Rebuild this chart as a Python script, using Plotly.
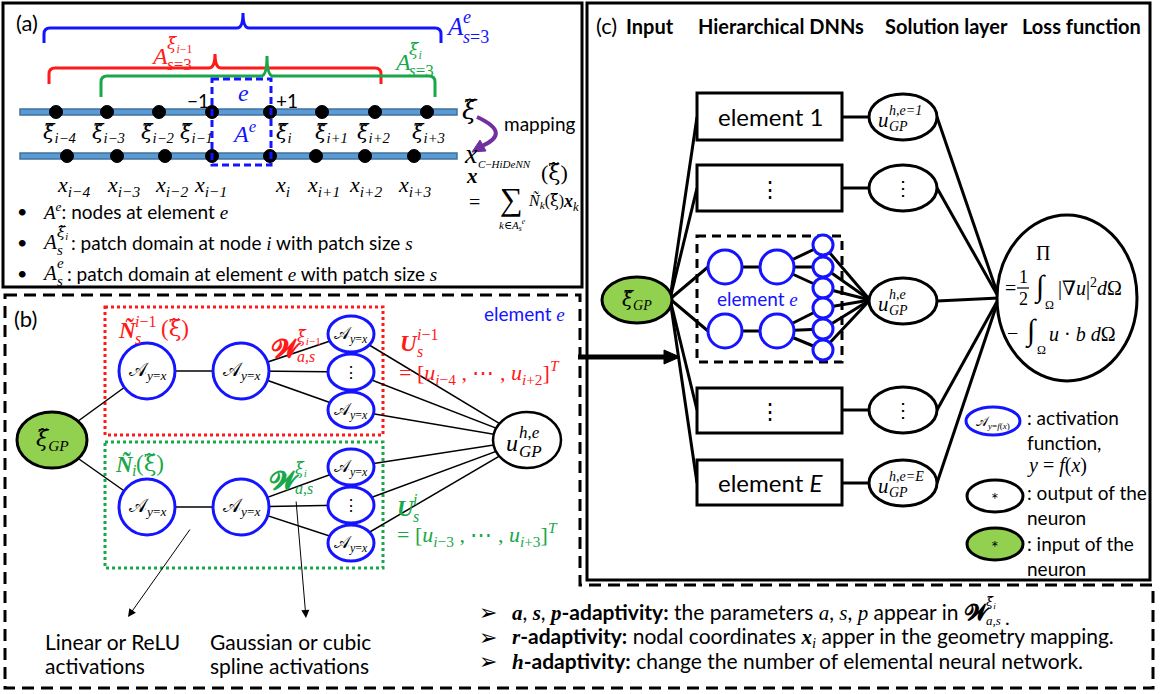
import plotly.graph_objects as go

# ---------------- content (labels and texts) ----------------
node_subs = ["i−4", "i−3", "i−2", "i−1", "i", "i+1", "i+2", "i+3"]
headers_c = ["Input", "Hierarchical DNNs", "Solution layer", "Loss function"]
box_texts = ["element 1", "⋮", "", "⋮", "element <i>E</i>"]
solution_sups = ["h,e=1", "", "h,e", "", "h,e=E"]
bullet_a_texts = [": nodes at element {e}",
                  ": patch domain at node {i} with patch size {s}",
                  ": patch domain at element {e} with patch size {s}"]
notes_b = [["Linear or ReLU", "activations"], ["Gaussian or cubic", "spline activations"]]
adapt_heads = ["{a}, {s}, {p}", "{r}", "{h}"]
adapt_texts = [" the parameters {a}, {s}, {p} appear in ",
               " nodal coordinates {xi} apper in the geometry mapping.",
               " change the number of elemental neural network."]
legend_texts = [": activation<br>function,", ": output of the<br>neuron", ": input of the<br>neuron"]

# ---------------- styles ----------------
SANS = "Lato, 'Open Sans', sans-serif"
SERIF = "'Liberation Serif', 'DejaVu Serif', serif"
BLUE = "#1414ff"
RED = "#ff1a1a"
GREEN = "#18a84a"
PURPLE = "#7030a0"
BAR = "#5b9bd5"
LIME = "#92d050"
XI = "<span style='font-family:DejaVu Serif'>ξ\u0303</span>"
SCR_A = "𝒜"
SCR_W = "𝓦"

shapes, ann = [], []


def I(s, bold=False):
    t = f"<i>{s}</i>"
    if bold:
        t = f"<b>{t}</b>"
    return f"<span style='font-family:Liberation Serif'>{t}</span>"


def txt(x, y, s, size=18, color="black", family=SANS, xa="center", ya="middle", align="left"):
    ann.append(dict(x=x, y=y, text=s, showarrow=False, xref="x", yref="y",
                    xanchor=xa, yanchor=ya, borderpad=0, align=align,
                    font=dict(size=size, color=color, family=family)))


def script(x, y, base, sup, sub, size, color, bw, ss=None, dsup=None, dsub=None, family=SERIF):
    txt(x, y, base, size, color, family, xa="left")
    ss = ss or round(size * 0.65)
    if sup:
        txt(x + bw, y - (dsup if dsup is not None else 0.42 * size), sup, ss, color, family, xa="left")
    if sub:
        txt(x + bw, y + (dsub if dsub is not None else 0.36 * size), sub, ss, color, family, xa="left")


def line(x0, y0, x1, y1, color="black", w=1.5, dash=None):
    d = dict(type="line", xref="x", yref="y", x0=x0, y0=y0, x1=x1, y1=y1,
             line=dict(color=color, width=w))
    if dash:
        d["line"]["dash"] = dash
    shapes.append(d)


def rect(x0, y0, x1, y1, color="black", w=3, dash=None, fill=None):
    d = dict(type="rect", xref="x", yref="y", x0=x0, y0=y0, x1=x1, y1=y1,
             line=dict(color=color, width=w))
    if dash:
        d["line"]["dash"] = dash
    if fill:
        d["fillcolor"] = fill
    shapes.append(d)


def ell(cx, cy, rx, ry, color="black", w=3, fill="white"):
    shapes.append(dict(type="circle", xref="x", yref="y", x0=cx - rx, x1=cx + rx,
                       y0=cy - ry, y1=cy + ry, line=dict(color=color, width=w),
                       fillcolor=fill))


def path(p, color="black", w=3, fill=None, dash=None):
    d = dict(type="path", xref="x", yref="y", path=p, line=dict(color=color, width=w))
    if fill:
        d["fillcolor"] = fill
    if dash:
        d["line"]["dash"] = dash
    shapes.append(d)


def brace(x0, x1, xc, yh, yend, ytop, color):
    r = 6
    p = (f"M {x0},{yend} L {x0},{yh + r} Q {x0},{yh} {x0 + r},{yh} L {xc - 6},{yh} "
         f"Q {xc},{yh} {xc},{ytop} Q {xc},{yh} {xc + 6},{yh} L {x1 - r},{yh} "
         f"Q {x1},{yh} {x1},{yh + r} L {x1},{yend}")
    path(p, color, 3)


def arrow(xt, yt, xh, yh, w=1, size=1.6):
    ann.append(dict(x=xh, y=yh, ax=xt, ay=yt, xref="x", yref="y", axref="x", ayref="y",
                    showarrow=True, arrowhead=2, arrowsize=size, arrowwidth=w,
                    arrowcolor="black", text=""))


# ======================= panel (a) =======================
rect(3, 3, 582, 287, w=3)
txt(15, 22, "(a)", 22, xa="left")
brace(44, 441, 243, 28, 43, 13, BLUE)
brace(49, 381, 215, 68, 84, 54, RED)
brace(101, 435, 267, 76, 97, 56, GREEN)
script(445, 26, "<i>A</i>", "<i>e</i>", "<i>s</i>=3", 25, BLUE, 17, ss=18, dsup=9, dsub=11)
script(150, 56, "<i>A</i>", f"<i>{XI}</i><sub><i>i</i>−1</sub>", "<i>s</i>=3", 24, RED, 16, ss=17, dsup=12, dsub=8)
script(393, 62, "<i>A</i>", f"<i>{XI}</i><sub><i>i</i></sub>", "<i>s</i>=3", 24, GREEN, 15, ss=17, dsup=12, dsub=8)

xi_x = [56, 107, 159, 212, 270, 322, 375, 427]
xx_x = [67, 117, 165, 212, 270, 316, 365, 414]
xi_lab = [60, 108, 158, 196, 284, 331, 374, 428]
xx_lab = [73, 123, 171, 210, 282, 323, 365, 414]
rect(20, 109, 457, 115, color="#41719c", w=1.5, fill=BAR)
rect(20, 153, 457, 159, color="#41719c", w=1.5, fill=BAR)
for k, s in enumerate(node_subs):
    ell(xi_x[k], 112, 6.5, 6.5, "black", 1, "black")
    ell(xx_x[k], 156, 6.5, 6.5, "black", 1, "black")
    txt(xi_lab[k], 133, f"<i>{XI}</i><sub><i>{s}</i></sub>", 21, family=SERIF)
    txt(xx_lab[k], 186, f"<i>x</i><sub><i>{s}</i></sub>", 22, family=SERIF)
rect(212, 79, 271, 165, color=BLUE, w=3, dash="7px,4px")
txt(243, 93, "<i>e</i>", 24, BLUE, SERIF)
txt(244, 132, "<i>A</i><sup><i>e</i></sup>", 24, BLUE, SERIF)
txt(198, 100, "−1", 19)
txt(287, 100, "+1", 19)
txt(461, 110, f"<i>{XI}</i>", 26, family=SERIF, xa="left")
txt(463, 153, "<i>x</i>", 28, family=SERIF, xa="left")
txt(503, 123, "mapping", 19, xa="left")
path("M 477,117 Q 512,133 482,146", PURPLE, 4)
path("M 472,152 L 486,151 L 480,140 Z", PURPLE, 1, PURPLE)
txt(465, 176, "<b><i>x</i></b>", 21, family=SERIF, xa="left")
txt(477, 164, "<i>C</i>−<i>HiDeNN</i>", 11, family=SERIF, xa="left")
txt(540, 172, f"({XI})", 22, family=SERIF, xa="left")
txt(468, 202, "=", 20, family=SERIF, xa="left")
txt(511, 199, "∑", 32, family=SERIF)
txt(527, 201, f"<i>Ñ</i><sub><i>k</i></sub>({XI})", 16, family=SERIF, xa="left")
txt(562, 202, "<b><i>x</i></b><sub><i>k</i></sub>", 18, family=SERIF, xa="left")
txt(512, 225, "<i>k</i>∈<i>A</i><sub><i>s</i></sub><sup><i>e</i></sup>", 11, family=SERIF)
by = [211, 242, 273]
for k, t in enumerate(bullet_a_texts):
    txt(22, by[k], "•", 18)
    body = t.format(e=I("e"), i=I("i"), s=I("s"))
    if k == 0:
        txt(41, by[k], I("A") + f"<sup>{I('e')}</sup>" + body, 19, xa="left")
    else:
        sup = f"<i>{XI}</i><sub><i>i</i></sub>" if k == 1 else "<i>e</i>"
        script(41, by[k], "<i>A</i>", sup, "<i>s</i>", 21, "black", 15, ss=15, dsup=10, dsub=8)
        txt(70 if k == 1 else 66, by[k], body, 19, xa="left")

# ======================= panel (b) =======================
path("M 5,295 L 580,295 L 580,585 L 1153,585 L 1153,688 L 5,688 Z", "black", 3, dash="12px,7px")
txt(13, 318, "(b)", 22, xa="left")
txt(483, 313, "element " + I("e"), 19, BLUE, xa="left")
rect(105, 307, 383, 435, color=RED, w=3, dash="3px,3px")
rect(105, 442, 383, 568, color=GREEN, w=3, dash="3px,3px")

inp_b = (52, 440)
l1 = [(147, 371), (147, 507)]
l2 = [(241, 371), (241, 507)]
small_y = [[334, 372, 410], [467, 505, 543]]
out_b = (527, 440)
for g in range(2):
    line(*inp_b, *l1[g])
    line(*l1[g], *l2[g])
    for yy in small_y[g]:
        line(*l2[g], 351, yy)
        line(351, yy, *out_b)
ell(*inp_b, 35, 28, "black", 3, LIME)
txt(52, 440, f"<i>{XI}</i><sub><i>GP</i></sub>", 22, family=SERIF)
for g in range(2):
    for c in (l1[g], l2[g]):
        ell(*c, 28, 28, BLUE, 3)
        txt(c[0], c[1], f"{SCR_A}<sub><i>y</i>=<i>x</i></sub>", 19, family=SERIF)
    for j, yy in enumerate(small_y[g]):
        ell(351, yy, 23, 18, BLUE, 3)
        if j == 1:
            txt(351, yy, "⋮", 16, family=SERIF)
        else:
            txt(351, yy + 1, f"{SCR_A}<sub><i>y</i>=<i>x</i></sub>", 17, family=SERIF)
ell(*out_b, 34, 28, "black", 2.5)
script(505, 443, "<i>u</i>", "<i>h</i>,<i>e</i>", "<i>GP</i>", 24, "black", 13, ss=17, dsup=11, dsub=8)

script(117, 330, "<b><i>Ñ</i></b>", "<i>i</i>−1", "<i>s</i>", 23, RED, 17, ss=16, dsup=9, dsub=8)
txt(160, 328, f"({XI})", 23, RED, SERIF, xa="left")
script(270, 348, f"<b>{SCR_W}</b>", f"<i>{XI}</i><sub><i>i</i>−1</sub>", "<i>a</i>,<i>s</i>", 26, RED, 26, ss=16, dsup=11, dsub=8)
script(399, 343, "<b><i>U</i></b>", "<i>i</i>−1", "<i>s</i>", 23, RED, 17, ss=16, dsup=9, dsub=8)
txt(398, 372, "= [<i>u</i><sub><i>i</i>−4</sub> , ⋯ , <i>u</i><sub><i>i</i>+2</sub>]<sup><i>T</i></sup>", 22, RED, SERIF, xa="left")

script(114, 464, "<b><i>Ñ</i></b>", None, "<i>i</i>", 23, GREEN, 17, ss=16, dsub=6)
txt(135, 463, f"({XI})", 23, GREEN, SERIF, xa="left")
script(268, 480, f"<b>{SCR_W}</b>", f"<i>{XI}</i><sub><i>i</i></sub>", "<i>a</i>,<i>s</i>", 26, GREEN, 26, ss=16, dsup=11, dsub=8)
script(396, 508, "<b><i>U</i></b>", "<i>i</i>", "<i>s</i>", 23, GREEN, 16, ss=16, dsup=9, dsub=8)
txt(396, 534, "= [<i>u</i><sub><i>i</i>−3</sub> , ⋯ , <i>u</i><sub><i>i</i>+3</sub>]<sup><i>T</i></sup>", 22, GREEN, SERIF, xa="left")

arrow(191, 528, 128, 617)
arrow(296, 500, 306, 618)
for k, xs in enumerate([44, 209]):
    txt(xs, 641, notes_b[k][0], 21, xa="left")
    txt(xs, 665, notes_b[k][1], 21, xa="left")

ay = [612, 637, 661]
for k in range(3):
    txt(488, ay[k], "➢", 22, family="DejaVu Sans")
    head = adapt_heads[k].format(a=I("a", True), s=I("s", True), p=I("p", True),
                                 r=I("r", True), h=I("h", True))
    body = adapt_texts[k].format(a=I("a"), s=I("s"), p=I("p"),
                                 xi=I("x", True) + "<sub>" + I("i") + "</sub>")
    txt(511, ay[k], head + "<b>-adaptivity:</b>" + body, 21, xa="left")
script(963, 612, f"<b>{SCR_W}</b>", f"<i>{XI}</i><sub><i>i</i></sub>", "<i>a</i>,<i>s</i>", 22, "black", 22, ss=13, dsup=10, dsub=8)
txt(1004, 617, ".", 20, xa="left")

# ======================= panel (c) =======================
rect(587, 3, 1150, 580, w=3)
txt(595, 25, "(c)", 22, xa="left")
hx = [625, 697, 884, 1021]
for k, h in enumerate(headers_c):
    txt(hx[k], 26, f"<b>{h}</b>", 20, xa="left")

box_y = [(93, 140), (165, 211), (236, 362), (388, 433), (460, 505)]
sol_y = [117, 188, 301, 410, 483]
inp_c = (637, 300)
apex = (670, 299)
loss = (1067, 298)
c1 = [(725, 267), (725, 331)]
c2 = [(777, 267), (777, 331)]
sm_y = [[245, 267, 288], [308, 329, 350]]

for k in range(5):
    if k == 2:
        for g in range(2):
            line(*apex, 708, c1[g][1], w=3)
    else:
        line(*apex, 697, sol_y[k], w=3)
        line(842, sol_y[k], 869, sol_y[k], w=3)
    line(937, sol_y[k], 999, loss[1], w=3)
for g in range(2):
    line(*c1[g], *c2[g], w=3)
    for yy in sm_y[g]:
        line(*c2[g], 823, yy, w=3)
        line(823, yy, 870, 300, w=3)

for k in range(5):
    y0, y1 = box_y[k]
    if k == 2:
        rect(697, y0, 842, y1, w=3, dash="9px,6px")
    else:
        rect(697, y0, 842, y1, w=3, fill="white")
        txt(770, (y0 + y1) / 2, box_texts[k], 24 if k in (0, 4) else 22)
for g in range(2):
    for c in (c1[g], c2[g]):
        ell(*c, 17, 17, BLUE, 3)
    for yy in sm_y[g]:
        ell(823, yy, 10, 10, BLUE, 3)
txt(757, 298, "element " + I("e"), 19, BLUE)

for k in range(5):
    ell(903, sol_y[k], 34, 23, "black", 3)
    if solution_sups[k]:
        script(877, sol_y[k] + 3, "<i>u</i>", "<i>" + solution_sups[k] + "</i>", "<i>GP</i>", 21, "black", 11, ss=14, dsup=10, dsub=6)
    else:
        txt(903, sol_y[k], "⋮", 20, family=SERIF)

ell(*inp_c, 35, 23, "black", 3, LIME)
txt(637, 300, f"<i>{XI}</i><sub><i>GP</i></sub>", 20, family=SERIF)

ell(*loss, 70, 83, "black", 3)
txt(1043, 253, "Π", 20, family=SERIF)
txt(1010, 288, "=", 20, family=SERIF)
txt(1023, 277, "1", 18, family=SERIF)
line(1017, 288, 1029, 288, w=1.2)
txt(1023, 299, "2", 18, family=SERIF)
txt(1040, 287, "∫", 30, family=SERIF)
txt(1049, 305, "Ω", 12, family=SERIF)
txt(1057, 287, "|∇<i>u</i>|<sup>2</sup><i>d</i>Ω", 20, family=SERIF, xa="left")
txt(1012, 333, "−", 20, family=SERIF)
txt(1031, 331, "∫", 30, family=SERIF)
txt(1041, 350, "Ω", 12, family=SERIF)
txt(1048, 334, "<i>u</i> · <i>b</i> <i>d</i>Ω", 20, family=SERIF, xa="left")

ell(993, 421, 27, 14, BLUE, 3)
txt(993, 422, f"{SCR_A}<sub><i>y</i>=<i>f</i>(<i>x</i>)</sub>", 13, family=SERIF)
txt(1026, 430, legend_texts[0], 19, xa="left")
txt(1026, 465, "<i>y</i> = <i>f</i>(<i>x</i>)", 20, family=SERIF, xa="left")
ell(995, 496, 28, 16, "black", 3)
txt(995, 499, "*", 18)
txt(1026, 505, legend_texts[1], 19, xa="left")
ell(995, 544, 28, 16, "black", 3, LIME)
txt(995, 547, "*", 18)
txt(1026, 556, legend_texts[2], 19, xa="left")

# thick arrow from (b) to (c)
line(578, 357, 668, 357, w=5)
path("M 664,350 L 680,357 L 664,364 Z", "black", 1, "black")

fig = go.Figure(go.Scatter(x=[0, 1161], y=[0, 694], mode="markers",
                           marker=dict(opacity=0), hoverinfo="skip"))
fig.update_layout(width=1161, height=694, margin=dict(l=0, r=0, t=0, b=0),
                  xaxis=dict(range=[0, 1161], visible=False, fixedrange=True),
                  yaxis=dict(range=[694, 0], visible=False, fixedrange=True),
                  plot_bgcolor="white", paper_bgcolor="white", showlegend=False,
                  shapes=shapes, annotations=ann)
fig.write_html("out.html", config={"displayModeBar": False},
               post_script="document.body.style.margin='0px';")
